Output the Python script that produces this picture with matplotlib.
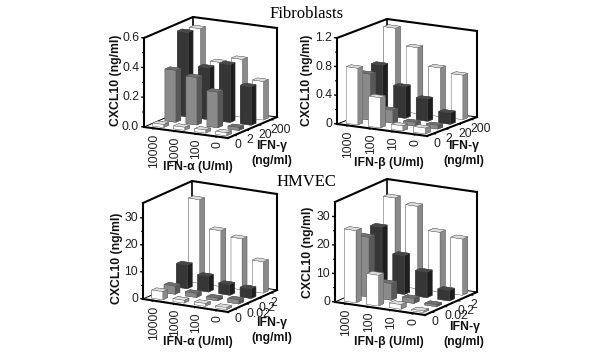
import numpy as np
import matplotlib
matplotlib.use("Agg")
import matplotlib.pyplot as plt
from mpl_toolkits.mplot3d import proj3d

plt.rcParams["font.family"] = ["Liberation Sans", "DejaVu Sans"]

# values: one row per IFN-gamma level (front to back), one column per IFN-a/b dose
fib_alpha = [[0.02, 0.02, 0.02, 0.02],
             [0.35, 0.32, 0.24, 0.02],
             [0.57, 0.35, 0.39, 0.26],
             [0.56, 0.35, 0.39, 0.26]]
fib_beta = [[0.79, 0.42, 0.07, 0.08],
            [0.64, 0.18, 0.05, 0.05],
            [0.70, 0.44, 0.31, 0.16],
            [1.15, 0.92, 0.68, 0.62]]
hmvec_alpha = [[3.0, 1.0, 1.0, 0.7],
               [3.0, 1.5, 1.0, 1.5],
               [8.8, 5.8, 4.0, 3.6],
               [31.0, 20.7, 18.9, 11.6]]
hmvec_beta = [[25.4, 10.8, 1.6, 0.5],
              [21.0, 5.8, 1.7, 0.7],
              [22.5, 13.7, 9.0, 3.7],
              [30.8, 29.0, 21.0, 19.8]]

alpha_doses = ["10000", "1000", "100", "0"]
beta_doses = ["1000", "100", "10", "0"]
gamma_fib = ["0", "2", "20", "200"]
gamma_hmvec = ["0", "0.02", "0.2", "2"]

W, H = 600, 358
# face colours per row: front, side, top
ROW_COLORS = [("#ffffff", "#8a8a8a", "#dcdcdc"),
              ("#8a8a8a", "#585858", "#707070"),
              ("#363636", "#1e1e1e", "#484848"),
              ("#ffffff", "#8a8a8a", "#dcdcdc")]

fig = plt.figure(figsize=(6, 3.58), dpi=100)


def to_display(ax, x, y, z):
    px, py, _ = proj3d.proj_transform(x, y, z, ax.get_proj())
    return ax.transData.transform((px, py))


def label_at(ax, x, y, z, off, lab, **kw):
    # tick text placed from the projected axis position, offset in pixels
    d = to_display(ax, x, y, z)
    fig.text((d[0] + off[0]) / W, (d[1] + off[1]) / H, lab, fontsize=8.8,
             color="#222222", **kw)


def panel(values, doses, gammas, zmax, zticks, zlabels, dose_label,
          lf, fr, rb, top_y, ylab_xy, xlab_xy, gam_xy, ng_xy):
    xv = np.subtract(fr, lf)
    yv = np.subtract(rb, fr)
    s1, s2 = xv[1] / xv[0], -yv[1] / yv[0]
    elev = np.degrees(np.arcsin(np.sqrt(s1 * s2)))
    turn = np.arctan(np.sqrt(s1 / s2))
    sx = xv[0] / np.cos(turn)
    sy = yv[0] / np.sin(turn)
    sz = (lf[1] - top_y) / np.cos(np.radians(elev))

    ax = fig.add_axes([0.2, 0.2, 0.5, 0.5], projection="3d", proj_type="ortho")
    ax.computed_zorder = False
    ax.set_facecolor("none")
    ax.set_axis_off()

    xs, ys, hs, cols = [], [], [], []
    for j, row in enumerate(values):
        for i, v in enumerate(row):
            xs.append(i + 0.24)
            ys.append(j + 0.3)
            hs.append(v)
            front, side, top = ROW_COLORS[j]
            cols += [top, top, front, side, side, side]
    ax.bar3d(xs, ys, 0, 0.52, 0.4, hs, color=cols, shade=False,
             edgecolor="#555555", linewidth=0.25, zorder=3)

    # frame
    floor = dict(color="k", lw=0.7, zorder=1)
    wall = dict(color="k", lw=1.5, zorder=4)
    ax.plot([0, 4], [4, 4], [0, 0], **floor)
    ax.plot([0, 0], [0, 4], [0, 0], **floor)
    ax.plot([0, 0], [4, 4], [0, zmax], color="k", lw=1.2, zorder=1)
    ax.plot([0, 4], [0, 0], [0, 0], **wall)
    ax.plot([4, 4], [0, 4], [0, 0], **wall)
    ax.plot([4, 4], [4, 4], [0, zmax], **wall)
    ax.plot([0, 0], [0, 0], [0, zmax], **wall)
    ax.plot([0, 0, 4], [0, 4, 4], [zmax, zmax, zmax], **wall)

    # tick marks
    mids = (np.array(zticks[:-1]) + np.array(zticks[1:])) / 2
    for z in mids:
        ax.plot([-0.06, 0], [0, 0], [z, z], color="k", lw=0.8, zorder=4)
    for z in zticks:
        ax.plot([-0.1, 0], [0, 0], [z, z], color="k", lw=1, zorder=4)
    for i in range(len(doses)):
        ax.plot([i + 0.5] * 2, [-0.12, 0], [0, 0], color="k", lw=0.8, zorder=4)
    for j in range(len(gammas)):
        ax.plot([4, 4.1], [j + 0.5] * 2, [0, 0], color="k", lw=0.8, zorder=4)

    ax.set_xlim(0, 4)
    ax.set_ylim(0, 4)
    ax.set_zlim(0, zmax)
    ax.view_init(elev=elev, azim=-90 + np.degrees(turn))

    # fit the box onto the wanted pixels
    zoom = 1.0
    ax.set_box_aspect((sx, sy, sz), zoom=zoom)
    ax.apply_aspect()
    a = to_display(ax, 0, 0, 0)
    b = to_display(ax, 4, 4, 0)
    zoom *= (rb[0] - lf[0]) / (b[0] - a[0])
    ax.set_box_aspect((sx, sy, sz), zoom=zoom)
    ax.apply_aspect()
    a = to_display(ax, 0, 0, 0)
    dx = (lf[0] - a[0]) / W
    dy = ((H - lf[1]) - a[1]) / H
    ax.set_position([0.2 + dx, 0.2 + dy, 0.5, 0.5])
    ax.apply_aspect()

    for z, lab in zip(zticks, zlabels):
        label_at(ax, 0, 0, z, (-5, 0), lab, ha="right", va="center")
    for i, lab in enumerate(doses):
        label_at(ax, i + 0.5, 0, 0, (0, -5), lab, rotation=90, ha="center", va="top")
    for j, lab in enumerate(gammas):
        label_at(ax, 4, j + 0.5, 0, (0, -4), lab, ha="left", va="top")

    bold = dict(fontsize=8.8, fontweight="bold", ha="center", va="center", color="#111111")
    fig.text(ylab_xy[0] / W, 1 - ylab_xy[1] / H, "CXCL10 (ng/ml)", rotation=90, **bold)
    fig.text(xlab_xy[0] / W, 1 - xlab_xy[1] / H, dose_label, **bold)
    fig.text(gam_xy[0] / W, 1 - gam_xy[1] / H, "IFN-γ", **bold)
    fig.text(ng_xy[0] / W, 1 - ng_xy[1] / H, "(ng/ml)", **bold)


panel(fib_alpha, alpha_doses, gamma_fib, 0.6, [0, 0.2, 0.4, 0.6],
      ["0.0", "0.2", "0.4", "0.6"], "IFN-α (U/ml)",
      (144, 127), (228, 138), (277, 117), 38,
      (116, 80), (198, 167), (272, 146), (272, 161))
panel(fib_beta, beta_doses, gamma_fib, 1.2, [0, 0.4, 0.8, 1.2],
      ["0", "0.4", "0.8", "1.2"], "IFN-β (U/ml)",
      (337, 124), (427, 136), (477, 117), 38,
      (307, 80), (389, 163), (464, 146), (464, 161))
panel(hmvec_alpha, alpha_doses, gamma_hmvec, 35.6, [0, 10, 20, 30],
      ["0", "10", "20", "30"], "IFN-α (U/ml)",
      (143, 299), (228, 312), (277, 290), 203,
      (117, 258), (198, 342), (272, 323), (272, 338))
panel(hmvec_beta, beta_doses, gamma_hmvec, 35.2, [0, 10, 20, 30],
      ["0", "10", "20", "30"], "IFN-β (U/ml)",
      (335, 302), (425, 315), (477, 292), 202,
      (308, 252), (389, 342), (465, 327), (464, 342))

fig.text(307 / W, 1 - 14 / H, "Fibroblasts", family="Liberation Serif", fontsize=12,
         ha="center", va="center")
fig.text(306 / W, 1 - 182 / H, "HMVEC", family="Liberation Serif", fontsize=12,
         ha="center", va="center")

fig.savefig("out.png", dpi=100)
